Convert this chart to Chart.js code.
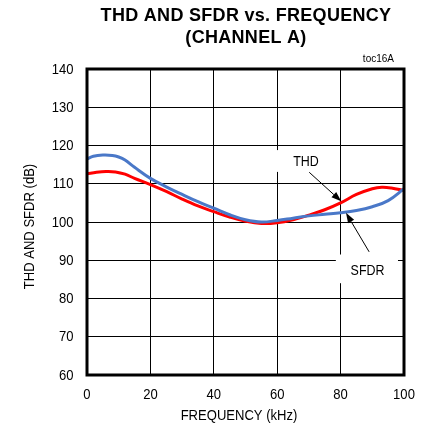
<!DOCTYPE html>
<html>
<head>
<meta charset="utf-8">
<script src="https://cdn.jsdelivr.net/npm/chart.js@4.4.1/dist/chart.umd.min.js"></script>
<style>
  html, body { margin: 0; padding: 0; background: #fff; }
  #wrap { width: 425px; height: 433px; position: relative; }
</style>
</head>
<body>
<div id="wrap"><canvas id="c" width="425" height="433"></canvas></div>
<script>
// ---- data ----
const sfdrFreq = [0, 2, 5, 8, 10, 12, 15, 20, 25, 30, 35, 40, 45, 50, 55, 60, 65, 70, 75, 80, 85, 90, 95, 100];
const sfdrDb   = [116.5, 117.2, 117.5, 117.4, 117.0, 116.2, 114.3, 111.4, 109.2, 107.2, 105.3, 103.6, 101.9, 100.6, 100.0, 100.4, 101.0, 101.6, 102.0, 102.4, 103.0, 104.0, 105.6, 108.7];
const thdFreq  = [0, 3, 6, 9, 12, 15, 20, 25, 30, 35, 40, 45, 50, 55, 60, 65, 70, 75, 80, 85, 90, 93, 96, 100];
const thdDb    = [112.6, 113.0, 113.2, 113.1, 112.5, 111.4, 109.8, 108.0, 106.0, 104.2, 102.7, 101.3, 100.2, 99.6, 99.8, 100.6, 101.8, 103.2, 105.0, 107.2, 108.7, 109.1, 108.9, 108.2];
const xTicks = [0, 20, 40, 60, 80, 100];
const yTicks = [60, 70, 80, 90, 100, 110, 120, 130, 140];
const titleLines = ['THD AND SFDR vs. FREQUENCY', '(CHANNEL A)'];
const xTitle = 'FREQUENCY (kHz)';
const yTitle = 'THD AND SFDR (dB)';
const figId = 'toc16A';
// callout labels: text, label position, arrow tail, arrow tip (in data units)
const calloutText = ['THD', 'SFDR'];
const calloutLabel = [[69.1, 115.7], [88.5, 87.3]];
const calloutTail = [[70.1, 113.0], [89.0, 92.2]];
const calloutTip  = [[80.2, 105.4], [81.7, 102.4]];
const calloutBox  = [[57, 118.8, 77, 113.1], [78.5, 91.5, 98.1, 84.0]];

const FONT = '"Liberation Sans", Arial, sans-serif';
const NARROW_X = 0.87;

const toXY = (xs, ys) => xs.map((x, i) => ({x: x, y: ys[i]}));

function narrowText(ctx, text, x, y, align, sx) {
  ctx.save();
  ctx.translate(x, y);
  ctx.scale(sx, 1);
  ctx.textAlign = align;
  ctx.fillText(text, 0, 0);
  ctx.restore();
}

const decor = {
  id: 'decor',
  beforeDatasetsDraw(chart) {
    const ctx = chart.ctx, xs = chart.scales.x, ys = chart.scales.y;
    ctx.save();
    ctx.fillStyle = '#fff';
    calloutBox.forEach(b => {
      const x0 = xs.getPixelForValue(b[0]), y0 = ys.getPixelForValue(b[1]);
      const x1 = xs.getPixelForValue(b[2]), y1 = ys.getPixelForValue(b[3]);
      ctx.fillRect(x0, y0, x1 - x0, y1 - y0);
    });
    ctx.restore();
  },
  afterDraw(chart) {
    const ctx = chart.ctx, xs = chart.scales.x, ys = chart.scales.y, a = chart.chartArea;
    ctx.save();
    // plot frame
    ctx.strokeStyle = '#000';
    ctx.lineWidth = 3;
    ctx.strokeRect(a.left, a.top, a.right - a.left, a.bottom - a.top);
    // title
    ctx.fillStyle = '#000';
    ctx.textAlign = 'center';
    ctx.textBaseline = 'middle';
    ctx.font = 'bold 18px ' + FONT;
    try { ctx.letterSpacing = '0.3px'; } catch (e) {}
    ctx.fillText(titleLines[0], 246, 16.5);
    ctx.fillText(titleLines[1], 246, 38);
    try { ctx.letterSpacing = '0px'; } catch (e) {}
    // id
    ctx.font = '10px ' + FONT;
    ctx.textAlign = 'right';
    ctx.fillText(figId, 394, 59);
    // tick labels (narrow)
    ctx.font = '15px ' + FONT;
    xs.ticks.forEach(t => narrowText(ctx, String(t.value), xs.getPixelForValue(t.value), 395, 'center', NARROW_X));
    ys.ticks.forEach(t => narrowText(ctx, String(t.value), 73.5, ys.getPixelForValue(t.value) + 0.5, 'right', NARROW_X));
    // axis titles
    narrowText(ctx, xTitle, 239, 415.5, 'center', NARROW_X);
    ctx.save();
    ctx.translate(29.5, 226.5);
    ctx.rotate(-Math.PI / 2);
    narrowText(ctx, yTitle, 0, 0, 'center', NARROW_X);
    ctx.restore();
    // callouts
    calloutText.forEach((t, i) => {
      ctx.fillStyle = '#000';
      narrowText(ctx, t, xs.getPixelForValue(calloutLabel[i][0]), ys.getPixelForValue(calloutLabel[i][1]), 'center', 0.83);
      const tx = xs.getPixelForValue(calloutTail[i][0]), ty = ys.getPixelForValue(calloutTail[i][1]);
      const px = xs.getPixelForValue(calloutTip[i][0]), py = ys.getPixelForValue(calloutTip[i][1]);
      const ang = Math.atan2(py - ty, px - tx);
      const hl = 10, hw = 3.5;
      const bx = px - hl * Math.cos(ang), by = py - hl * Math.sin(ang);
      ctx.strokeStyle = '#000';
      ctx.lineWidth = 1;
      ctx.beginPath(); ctx.moveTo(tx, ty); ctx.lineTo(bx, by); ctx.stroke();
      ctx.beginPath();
      ctx.moveTo(px, py);
      ctx.lineTo(bx + hw * Math.sin(ang), by - hw * Math.cos(ang));
      ctx.lineTo(bx - hw * Math.sin(ang), by + hw * Math.cos(ang));
      ctx.closePath(); ctx.fill();
    });
    ctx.restore();
  }
};

new Chart(document.getElementById('c'), {
  type: 'line',
  data: {
    datasets: [
      { label: 'SFDR', data: toXY(sfdrFreq, sfdrDb), borderColor: '#4a78c8', borderWidth: 3,
        pointRadius: 0, tension: 0.4, fill: false },
      { label: 'THD', data: toXY(thdFreq, thdDb), borderColor: '#ff0000', borderWidth: 3,
        pointRadius: 0, tension: 0.4, fill: false }
    ]
  },
  options: {
    responsive: false,
    animation: false,
    layout: { padding: { top: 69, right: 21, left: 0, bottom: 0 } },
    plugins: { legend: { display: false }, tooltip: { enabled: false }, title: { display: false } },
    scales: {
      x: {
        type: 'linear', min: 0, max: 100,
        afterBuildTicks: s => { s.ticks = xTicks.map(v => ({value: v})); },
        afterFit: s => { s.height = 58; },
        grid: { color: '#000', lineWidth: 1, drawTicks: false },
        border: { display: false },
        ticks: { display: false }
      },
      y: {
        type: 'linear', min: 60, max: 140,
        afterBuildTicks: s => { s.ticks = yTicks.map(v => ({value: v})); },
        afterFit: s => { s.width = 87; },
        grid: { color: '#000', lineWidth: 1, drawTicks: false },
        border: { display: false },
        ticks: { display: false }
      }
    }
  },
  plugins: [decor]
});
</script>
</body>
</html>
